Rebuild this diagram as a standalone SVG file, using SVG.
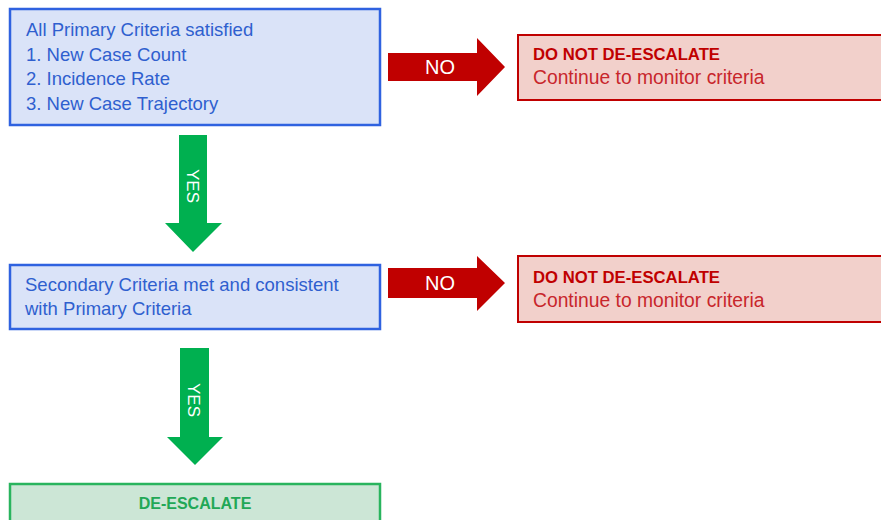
<svg xmlns="http://www.w3.org/2000/svg" width="881" height="520" viewBox="0 0 881 520">
<style>
text{font-family:"Liberation Sans",Arial,sans-serif;font-size:18.5px}
.blue rect{fill:#DAE3F8;stroke:#2F62E0;stroke-width:2.5}
.blue text{fill:#2F5FCF}
.red rect{fill:#F2D0CB;stroke:#C00000;stroke-width:2}
.red .t1{fill:#C00000;font-weight:bold;font-size:16.7px}
.red .t2{fill:#C8262B;font-size:19.3px}
.green rect{fill:#CCE6D6;stroke:#29B45E;stroke-width:2.5}
.green text{fill:#22A856;font-weight:bold;font-size:16px}
.ra{fill:#C00000}
.ga{fill:#00B050}
.lbl{fill:#FFFFFF;font-size:20px}
.lblg{fill:#FFFFFF;font-size:17px}
</style>
<rect width="881" height="520" fill="#FFFFFF"/>
<g id="primary" class="blue">
<rect x="10" y="9" width="370" height="116"/>
<text x="26" y="36">All Primary Criteria satisfied</text>
<text x="26" y="61">1. New Case Count</text>
<text x="26" y="85">2. Incidence Rate</text>
<text x="26" y="110">3. New Case Trajectory</text>
</g>
<g id="noaction1" class="red">
<rect x="518" y="35" width="370" height="65"/>
<text class="t1" x="533" y="60">DO NOT DE-ESCALATE</text>
<text class="t2" x="533" y="84">Continue to monitor criteria</text>
</g>
<g id="secondary" class="blue">
<rect x="10" y="265" width="370" height="64"/>
<text x="25" y="291">Secondary Criteria met and consistent</text>
<text x="25" y="315">with Primary Criteria</text>
</g>
<g id="noaction2" class="red">
<rect x="518" y="256" width="370" height="66"/>
<text class="t1" x="533" y="283">DO NOT DE-ESCALATE</text>
<text class="t2" x="533" y="307">Continue to monitor criteria</text>
</g>
<g id="deescalate" class="green">
<rect x="10" y="484" width="370" height="50"/>
<text x="195" y="509" text-anchor="middle">DE-ESCALATE</text>
</g>
<g id="connectors">
<polygon class="ra" points="388,53 477,53 477,38 505,67 477,96 477,81 388,81"/>
<text class="lbl" x="440" y="74" text-anchor="middle">NO</text>
<polygon class="ra" points="388,268 477,268 477,256 505,283 477,311 477,298 388,298"/>
<text class="lbl" x="440" y="290" text-anchor="middle">NO</text>
<polygon class="ga" points="179,135 207,135 207,223 222,223 193,252 165,223 179,223"/>
<text class="lblg" transform="translate(187,186) rotate(90)" text-anchor="middle">YES</text>
<polygon class="ga" points="180,348 209,348 209,437 223,437 195,465 167,437 180,437"/>
<text class="lblg" transform="translate(188,400) rotate(90)" text-anchor="middle">YES</text>
</g>
</svg>
